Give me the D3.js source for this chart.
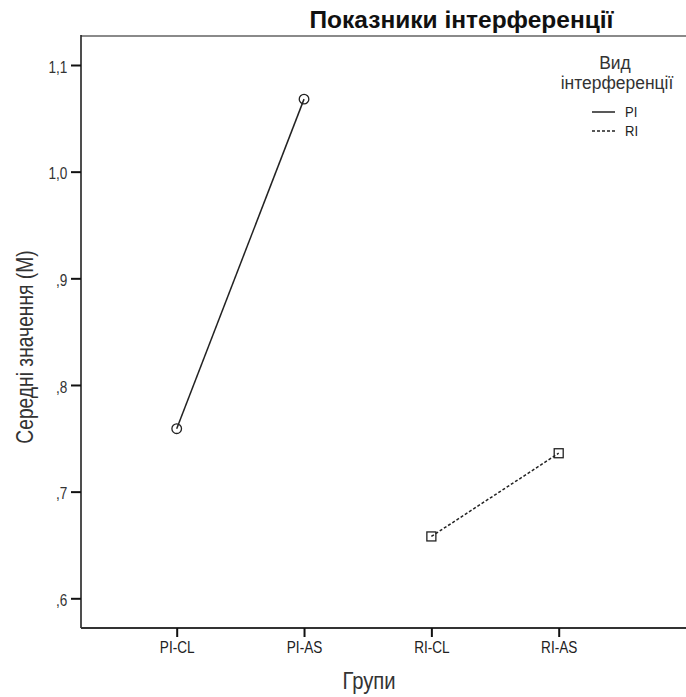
<!DOCTYPE html>
<html><head><meta charset="utf-8">
<script src="https://cdn.jsdelivr.net/npm/d3@7"></script>
<style>body{margin:0;background:#fff;} svg{display:block;font-family:"Liberation Sans",Arial,sans-serif;}</style>
</head><body>
<script>
const categories = ["PI-CL","PI-AS","RI-CL","RI-AS"];
const seriesNames = ["PI","RI"];
const piGroups = ["PI-CL","PI-AS"];
const piValues = [0.759, 1.068];
const riGroups = ["RI-CL","RI-AS"];
const riValues = [0.658, 0.736];
const yTicks = [0.6,0.7,0.8,0.9,1.0,1.1];
const yTickLabels = [",6",",7",",8",",9","1,0","1,1"];
const title = "Показники інтерференції";
const xTitle = "Групи";
const yTitle = "Середні значення (М)";
const legendTitle = ["Вид","інтерференції"];

const W=686,H=697;
const mLeft=81, mRight=686, mTop=36, mBottom=628;
const svg=d3.select("body").append("svg").attr("width",W).attr("height",H);

const x=d3.scalePoint().domain(categories).range([176.7,558.7]);
const y=d3.scaleLinear().domain([0.6,1.1]).range([598.3,65]);

function label(px,py,txt,opt){
  const g=svg.append("g").attr("transform",`translate(${px},${py})${opt.rot?" rotate(-90)":""}`);
  return g.append("text").attr("transform",`scale(${opt.sx||1},1)`)
    .attr("text-anchor",opt.anchor||"middle").attr("font-size",opt.size)
    .attr("font-weight",opt.bold?"bold":null).attr("fill",opt.fill||"#333").text(txt);
}

// frame
svg.append("line").attr("x1",mLeft).attr("x2",mRight).attr("y1",mTop).attr("y2",mTop)
  .attr("stroke","#8a8a8a").attr("stroke-width",2);
svg.append("line").attr("x1",mLeft).attr("x2",mLeft).attr("y1",mTop-1).attr("y2",mBottom)
  .attr("stroke","#222").attr("stroke-width",1.6);
svg.append("line").attr("x1",mLeft).attr("x2",mRight).attr("y1",mBottom).attr("y2",mBottom)
  .attr("stroke","#333").attr("stroke-width",1.8);

// y axis labels
const ya=svg.append("g").attr("transform",`translate(${mLeft},0)`)
  .call(d3.axisLeft(y).tickValues(yTicks).tickSize(10).tickPadding(6)
    .tickFormat((d,i)=>yTickLabels[i]));
ya.select(".domain").remove();
ya.selectAll(".tick line").attr("stroke","#111").attr("stroke-width",2);
ya.selectAll(".tick text").attr("font-size",16).attr("fill","#333").attr("dy","0.45em")
  .attr("transform","scale(0.85,1)");

// x axis labels
const xa=svg.append("g").attr("transform",`translate(0,${mBottom})`)
  .call(d3.axisBottom(x).tickSize(9).tickPadding(5));
xa.select(".domain").remove();
xa.selectAll(".tick line").attr("stroke","#111").attr("stroke-width",2);
xa.selectAll(".tick text").attr("font-size",16).attr("fill","#222").attr("transform","scale(0.85,1)");

// titles
label(461.5,28,title,{size:24.5,bold:true,fill:"#111"});
label(369,689,xTitle,{size:23,sx:0.88});
label(33,347,yTitle,{size:23.5,sx:0.82,rot:true});

// lines
const line=d3.line().x(d=>x(d[0])).y(d=>y(d[1]));
const pi=piGroups.map((g,i)=>[g,piValues[i]]);
const ri=riGroups.map((g,i)=>[g,riValues[i]]);
svg.append("path").datum(pi).attr("d",line).attr("fill","none").attr("stroke","#222").attr("stroke-width",1.5);
svg.append("path").datum(ri).attr("d",line).attr("fill","none").attr("stroke","#222").attr("stroke-width",1.5).attr("stroke-dasharray","3,2");
svg.selectAll("circle.pt").data(pi).enter().append("circle").attr("class","pt")
  .attr("cx",d=>x(d[0])).attr("cy",d=>y(d[1])).attr("r",4.8)
  .attr("fill","none").attr("stroke","#222").attr("stroke-width",1.3);
svg.selectAll("rect.pt").data(ri).enter().append("rect").attr("class","pt")
  .attr("x",d=>x(d[0])-4.5).attr("y",d=>y(d[1])-4.5).attr("width",9).attr("height",9)
  .attr("fill","none").attr("stroke","#222").attr("stroke-width",1.3);

// legend
label(615,69,legendTitle[0],{size:19,sx:0.92});
label(617,89,legendTitle[1],{size:19,sx:0.92});
seriesNames.forEach((s,i)=>{
  const ly=112+i*19;
  svg.append("line").attr("x1",592).attr("x2",i?617:615).attr("y1",ly).attr("y2",ly)
    .attr("stroke","#222").attr("stroke-width",1.5).attr("stroke-dasharray",i?"3,2":null);
  label(625,ly+5,s,{size:14.5,sx:0.9,anchor:"start",fill:"#222"});
});
</script>
</body></html>
